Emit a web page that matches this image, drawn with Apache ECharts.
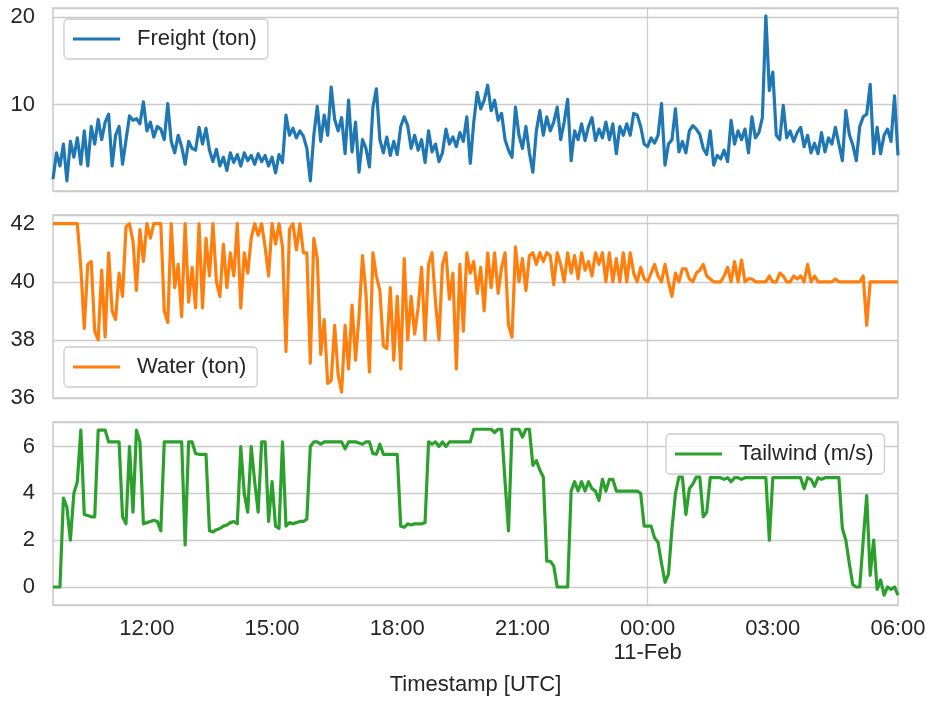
<!DOCTYPE html>
<html>
<head>
<meta charset="utf-8">
<script src="https://cdn.jsdelivr.net/npm/echarts@6/dist/echarts.min.js"></script>
<style>
  html, body { margin: 0; padding: 0; background: #ffffff; }
  #chart { width: 932px; height: 701px; }
</style>
</head>
<body>
<div id="chart"></div>
<script>
// Time base: hours counted from 00:00 on 10 Feb, one sample every 5 minutes
const START_HOUR = 9.75;          // 09:45
const STEP_HOURS = 5 / 60;
const END_HOUR = 30;              // 06:00 next day
const MIDNIGHT_HOUR = 24;
const NEXT_DAY_LABEL = '11-Feb';

const freight = [
  1.5, 4.5, 3.0, 5.5, 1.3, 5.8, 4.0, 6.2, 3.2, 7.0,
  3.0, 7.5, 5.5, 8.3, 6.0, 8.0, 8.9, 3.0, 6.5, 7.5,
  3.2, 6.0, 8.7, 8.2, 8.4, 7.8, 10.3, 7.0, 8.0, 6.3,
  7.5, 7.2, 6.0, 10.1, 5.8, 4.5, 6.5, 5.2, 3.2, 5.8,
  5.0, 4.8, 7.4, 5.5, 7.3, 4.8, 3.5, 4.9, 3.0, 4.0,
  2.5, 4.5, 3.4, 4.3, 3.0, 4.5, 3.6, 4.2, 3.2, 4.4,
  3.5, 4.2, 3.0, 4.0, 2.2, 4.3, 3.4, 8.8, 6.5, 7.3,
  6.2, 7.0, 6.4, 5.0, 1.3, 6.5, 9.8, 5.8, 8.8, 6.5,
  12.0, 8.3, 7.0, 8.5, 4.4, 10.5, 4.6, 8.0, 2.3, 6.0,
  5.0, 2.9, 9.7, 11.8, 6.0, 4.5, 6.3, 4.2, 5.8, 4.3,
  7.5, 8.6, 7.6, 5.0, 6.5, 4.8, 6.0, 3.4, 7.0, 4.6,
  5.5, 3.5, 4.5, 7.2, 5.5, 6.3, 5.2, 6.8, 5.8, 8.6,
  3.3, 8.0, 11.4, 9.5, 10.5, 12.2, 9.3, 10.5, 8.2, 9.0,
  6.0, 4.8, 4.0, 9.7, 6.5, 5.0, 7.5, 4.5, 2.3, 7.0,
  9.3, 6.5, 8.6, 7.0, 8.0, 9.7, 6.0, 8.0, 10.6, 3.6,
  7.0, 6.0, 7.8, 5.9, 7.5, 8.5, 5.9, 7.2, 6.2, 8.0,
  6.0, 7.8, 4.4, 7.5, 6.5, 7.8, 6.5, 9.0, 8.8, 7.5,
  5.5, 5.2, 6.2, 5.6, 6.5, 10.1, 3.1, 5.5, 6.0, 9.5,
  4.6, 5.8, 4.5, 7.0, 7.6, 7.2, 6.6, 5.0, 4.3, 7.0,
  3.1, 4.2, 3.8, 4.8, 3.5, 8.2, 5.5, 7.0, 6.0, 7.2,
  4.5, 8.6, 6.2, 6.8, 8.5, 20.1, 11.6, 13.7, 6.5, 6.0,
  9.9, 6.2, 7.0, 5.8, 6.8, 7.4, 5.2, 6.5, 4.5, 5.6,
  4.4, 6.8, 4.6, 6.2, 5.5, 7.4, 5.5, 3.6, 9.3, 6.6,
  5.4, 3.6, 7.5, 8.6, 8.9, 12.3, 4.4, 7.4, 4.4, 6.5,
  7.2, 5.8, 11.0, 4.2
];

const water = [
  42.0, 42.0, 42.0, 42.0, 42.0, 42.0, 42.0, 42.0, 40.5, 38.4,
  40.6, 40.7, 38.3, 38.0, 40.4, 38.1, 41.0, 39.0, 38.7, 40.3,
  39.5, 41.9, 42.0, 41.4, 39.7, 41.8, 40.7, 42.0, 41.5, 42.0,
  42.0, 42.0, 39.0, 38.6, 42.0, 39.8, 40.6, 38.8, 42.0, 39.3,
  40.5, 39.1, 42.0, 39.1, 41.5, 40.2, 42.0, 40.0, 39.5, 41.3,
  39.8, 41.0, 40.2, 42.0, 39.1, 41.0, 40.3, 41.5, 42.0, 41.6,
  42.0, 41.2, 40.2, 42.0, 41.3, 42.0, 41.2, 37.6, 41.8, 42.0,
  41.1, 42.0, 41.0, 41.0, 37.2, 41.5, 40.8, 37.5, 38.7, 36.5,
  36.6, 38.5, 36.8, 36.2, 38.5, 37.0, 39.2, 37.3, 38.8, 40.9,
  39.6, 36.9, 41.0, 40.2, 39.7, 37.8, 37.7, 39.8, 37.3, 39.5,
  37.0, 40.8, 38.0, 39.5, 38.2, 39.1, 40.5, 38.0, 40.6, 41.0,
  39.3, 38.0, 40.6, 41.0, 39.4, 40.3, 37.0, 40.6, 38.3, 41.0,
  40.3, 40.7, 39.6, 40.5, 39.0, 41.0, 39.8, 41.0, 39.6, 40.5,
  41.0, 38.5, 38.1, 41.2, 40.0, 40.8, 39.7, 40.9, 41.0, 40.6,
  41.0, 40.7, 41.0, 40.9, 39.9, 41.0, 40.6, 40.0, 41.0, 40.3,
  40.9, 40.1, 41.0, 40.4, 40.7, 40.2, 41.0, 40.6, 41.0, 40.0,
  41.0, 40.0, 40.8, 40.0, 41.0, 40.0, 41.0, 40.3, 40.0, 40.5,
  40.1, 40.0, 40.3, 40.6, 40.2, 40.0, 40.6, 40.0, 39.5, 40.3,
  40.0, 40.45, 40.45, 40.1, 40.0, 40.3, 40.4, 40.6, 40.2, 40.1,
  40.0, 40.0, 40.0, 40.2, 40.5, 40.0, 40.7, 40.0, 40.75, 40.0,
  40.1, 40.1, 40.0, 40.0, 40.0, 40.0, 40.2, 40.0, 40.0, 40.3,
  40.2, 40.0, 40.0, 40.2, 40.1, 40.2, 40.0, 40.6, 40.0, 40.2,
  40.0, 40.0, 40.0, 40.0, 40.0, 40.1, 40.0, 40.0, 40.0, 40.0,
  40.0, 40.0, 40.0, 40.2, 38.5, 40.0, 40.0, 40.0, 40.0, 40.0,
  40.0, 40.0, 40.0, 40.0
];

const tailwind = [
  0, 0, 0, 3.8, 3.4, 2.0, 4.0, 4.5, 6.7, 3.1,
  3.05, 3.0, 3.0, 6.7, 6.7, 6.7, 6.2, 6.2, 6.2, 6.2,
  3.0, 2.7, 6.0, 3.2, 6.7, 6.2, 2.7, 2.75, 2.8, 2.85,
  2.8, 2.4, 6.2, 6.2, 6.2, 6.2, 6.2, 6.2, 1.8, 6.2,
  6.2, 5.7, 5.67, 5.67, 5.67, 2.4, 2.35, 2.45, 2.5, 2.6,
  2.65, 2.75, 2.8, 2.7, 6.0, 4.0, 3.2, 6.0, 4.5, 3.2,
  6.2, 6.2, 2.8, 4.5, 2.6, 2.5, 6.2, 2.6, 2.75, 2.7,
  2.75, 2.8, 2.8, 2.9, 6.0, 6.2, 6.2, 6.1, 6.2, 6.2,
  6.2, 6.2, 6.2, 6.2, 5.9, 6.2, 6.2, 6.2, 6.15, 6.1,
  6.2, 6.2, 5.7, 5.67, 6.1, 5.67, 5.67, 5.67, 5.67, 5.67,
  2.6, 2.55, 2.7, 2.65, 2.7, 2.7, 2.7, 2.75, 6.2, 6.1,
  6.2, 6.0, 6.2, 6.0, 6.2, 6.2, 6.2, 6.2, 6.2, 6.2,
  6.2, 6.74, 6.74, 6.74, 6.74, 6.74, 6.74, 6.6, 6.74, 6.74,
  4.5, 2.4, 6.74, 6.74, 6.74, 6.4, 6.74, 6.74, 5.2, 5.4,
  5.0, 4.7, 1.1, 1.1, 0.9, 0, 0, 0, 0, 4.1,
  4.5, 4.1, 4.5, 4.1, 4.5, 4.2, 4.1, 3.7, 4.6, 4.1,
  4.6, 4.6, 4.1, 4.1, 4.1, 4.1, 4.1, 4.1, 4.1, 4.0,
  2.6, 2.6, 2.6, 2.1, 1.9, 1.0, 0.2, 0.55, 2.5, 4.0,
  4.7, 4.7, 3.1, 4.2, 4.4, 4.7, 4.7, 3.0, 3.2, 4.67,
  4.67, 4.67, 4.67, 4.6, 4.67, 4.5, 4.67, 4.67, 4.6, 4.67,
  4.67, 4.67, 4.67, 4.67, 4.67, 4.67, 2.0, 4.67, 4.67, 4.67,
  4.67, 4.67, 4.67, 4.67, 4.67, 4.67, 4.2, 4.67, 4.6, 4.3,
  4.67, 4.6, 4.67, 4.67, 4.67, 4.67, 4.67, 2.5, 2.0, 1.0,
  0.1, 0, 0, 2.0, 3.9, 0.5, 2.0, -0.1, 0.3, -0.35,
  0.0, -0.1, 0.0, -0.35
];

const seriesNames = ['Freight (ton)', 'Water (ton)', 'Tailwind (m/s)'];
const seriesValues = [freight, water, tailwind];
const seriesColors = ['#1f77b4', '#ff7f0e', '#2ca02c'];
const yLimits = [[0.15, 21], [36, 42.3], [-0.77, 7.05]];
const ySplitCounts = [2, 3, 4];

const TEXT = '#262626';
const GRID_LINE = '#cccccc';
const FONT = "'Liberation Sans', Arial, sans-serif";

// Panel placement and legend boxes
const panelTops = [8, 215, 422];
const legendPos = [{ left: 64, top: 19 }, { left: 64, top: 347 }, { left: 666, top: 434 }];

const toPoints = vals => vals.map((v, i) => [START_HOUR + i * STEP_HOURS, v]);

function timeLabel(v) {
  const h = Math.round(((v % 24) + 24) % 24);
  const s = String(h).padStart(2, '0') + ':00';
  return Math.abs(v - MIDNIGHT_HOUR) < 1e-6 ? s + '\n' + NEXT_DAY_LABEL : s;
}

const chart = echarts.init(document.getElementById('chart'), null, { renderer: 'canvas' });

const option = {
  backgroundColor: '#ffffff',
  animation: false,
  grid: panelTops.map(t => ({
    left: 53, width: 845, top: t, height: 183,
    show: true, borderColor: GRID_LINE, borderWidth: 1.6, backgroundColor: '#ffffff'
  })),
  xAxis: panelTops.map((t, k) => ({
    type: 'value', gridIndex: k,
    min: START_HOUR, max: END_HOUR, splitNumber: 7,
    axisLine: { show: false }, axisTick: { show: false }, splitLine: { show: false },
    axisLabel: k === 2 ? {
      show: true, showMinLabel: false, showMaxLabel: true,
      margin: 12, fontSize: 22, lineHeight: 24, color: TEXT, fontFamily: FONT,
      formatter: timeLabel
    } : { show: false },
    name: k === 2 ? 'Timestamp [UTC]' : '',
    nameLocation: 'middle', nameGap: 69,
    nameTextStyle: { fontSize: 22, color: TEXT, fontFamily: FONT }
  })),
  yAxis: panelTops.map((t, k) => ({
    type: 'value', gridIndex: k,
    min: yLimits[k][0], max: yLimits[k][1], splitNumber: ySplitCounts[k],
    axisLine: { show: false }, axisTick: { show: false },
    splitLine: { show: true, lineStyle: { color: GRID_LINE, width: 1.3 } },
    axisLabel: {
      showMinLabel: k === 1, showMaxLabel: false,
      margin: 18, fontSize: 22, color: TEXT, fontFamily: FONT
    }
  })),
  legend: seriesNames.map((n, k) => ({
    data: [n],
    left: legendPos[k].left, top: legendPos[k].top,
    icon: 'rect', itemWidth: 47, itemHeight: 3,
    padding: [9, 11, 9, 9],
    backgroundColor: 'rgba(255,255,255,0.8)',
    borderColor: GRID_LINE, borderWidth: 1.3, borderRadius: 4,
    selectedMode: false,
    textStyle: { fontSize: 22, lineHeight: 22, color: TEXT, fontFamily: FONT, padding: [0, 0, 0, 12] }
  })),
  series: seriesValues.map((vals, k) => ({
    name: seriesNames[k],
    type: 'line',
    xAxisIndex: k, yAxisIndex: k,
    data: toPoints(vals),
    showSymbol: false, symbol: 'none',
    color: seriesColors[k],
    lineStyle: { width: 3.2, color: seriesColors[k], join: 'round' },
    markLine: {
      silent: true, symbol: 'none', z: 1,
      label: { show: false },
      lineStyle: { color: GRID_LINE, width: 1.3, type: 'solid' },
      emphasis: { disabled: true },
      data: [{ xAxis: MIDNIGHT_HOUR }]
    }
  }))
};

chart.setOption(option);
</script>
</body>
</html>
